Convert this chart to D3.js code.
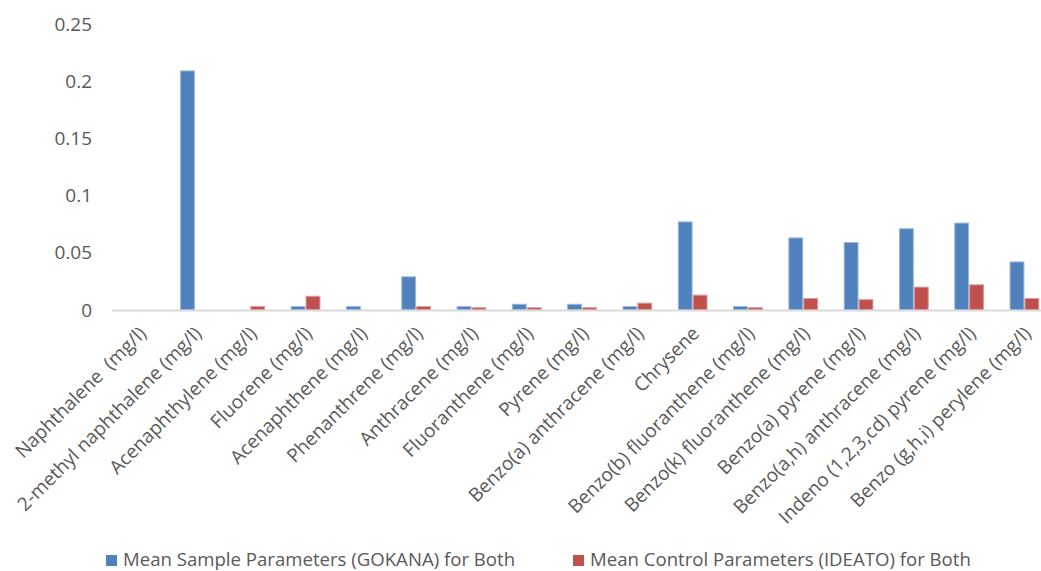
<!DOCTYPE html>
<html>
<head>
<meta charset="utf-8">
<script src="https://cdn.jsdelivr.net/npm/d3@7"></script>
<style>
  html, body { margin: 0; padding: 0; background: #fff; }
  svg { display: block; font-family: "Open Sans", "Noto Sans", sans-serif; }
</style>
</head>
<body>
<svg id="chart" width="1041" height="571"></svg>
<script>
// PAH concentrations (mg/l)
const categories = [
  "Naphthalene  (mg/l)",
  "2-methyl naphthalene (mg/l)",
  "Acenaphthylene (mg/l)",
  "Fluorene (mg/l)",
  "Acenaphthene (mg/l)",
  "Phenanthrene (mg/l)",
  "Anthracene (mg/l)",
  "Fluoranthene (mg/l)",
  "Pyrene (mg/l)",
  "Benzo(a) anthracene (mg/l)",
  "Chrysene",
  "Benzo(b) fluoranthene (mg/l)",
  "Benzo(k) fluoranthene (mg/l)",
  "Benzo(a) pyrene (mg/l)",
  "Benzo(a,h) anthracene (mg/l)",
  "Indeno (1,2,3,cd) pyrene (mg/l)",
  "Benzo (g,h,i) perylene (mg/l)"
];
const sampleGokana = [0, 0.209, 0, 0.003, 0.003, 0.029, 0.003, 0.005, 0.005, 0.003, 0.077, 0.003, 0.063, 0.059, 0.071, 0.076, 0.042];
const controlIdeato = [0, 0, 0.003, 0.012, 0, 0.003, 0.002, 0.002, 0.002, 0.006, 0.013, 0.002, 0.010, 0.009, 0.020, 0.022, 0.010];
const seriesNames = ["Mean Sample Parameters (GOKANA) for Both", "Mean Control Parameters (IDEATO) for Both"];
const seriesColors = ["#4F81BD", "#C0504D"];
const seriesStroke = ["#9db7da", "#dc9a98"];
const yTicks = [0, 0.05, 0.1, 0.15, 0.2, 0.25];

const svg = d3.select("#chart");
const plotLeft = 112, plotRight = 112 + 17 * 55.3, plotTop = 24, plotBottom = 310;

const x0 = d3.scaleBand().domain(categories).range([plotLeft, plotRight]).padding(0);
const x1 = d3.scaleBand().domain([0, 1])
  .range([x0.bandwidth() * 0.24, x0.bandwidth() * 0.76]).paddingInner(0.07);
const y = d3.scaleLinear().domain([0, 0.25]).range([plotBottom, plotTop]);

// y axis labels (no axis line, no gridlines)
const yAxis = d3.axisLeft(y).tickValues(yTicks).tickSize(0).tickPadding(0)
  .tickFormat(d => String(+d.toFixed(2)));
const gy = svg.append("g").attr("transform", "translate(92,0)").call(yAxis);
gy.select(".domain").remove();
gy.selectAll("text").attr("fill", "#595959").style("font-size", "19px")
  .style("font-family", "'Open Sans', sans-serif");

// bars
const data = categories.map((c, i) => ({ c, v: [sampleGokana[i], controlIdeato[i]] }));
const groups = svg.append("g").selectAll("g").data(data).join("g")
  .attr("transform", d => `translate(${x0(d.c)},0)`);
groups.selectAll("rect")
  .data(d => d.v.map((v, k) => ({ v, k })).filter(e => e.v > 0))
  .join("rect")
  .attr("x", e => x1(e.k))
  .attr("width", x1.bandwidth())
  .attr("y", e => y(e.v))
  .attr("height", e => y(0) - y(e.v))
  .attr("fill", e => seriesColors[e.k])
  .attr("stroke", e => seriesStroke[e.k])
  .attr("stroke-width", 1);

// category axis
svg.append("line")
  .attr("x1", plotLeft).attr("x2", plotRight)
  .attr("y1", y(0) + 0.5).attr("y2", y(0) + 0.5)
  .attr("stroke", "#d9d9d9").attr("stroke-width", 2);

svg.append("g").selectAll("text").data(categories).join("text")
  .attr("transform", d => `translate(${x0(d) + x0.bandwidth() / 2 + 3},${plotBottom + 20}) rotate(-45)`)
  .attr("text-anchor", "end")
  .attr("dy", "0.35em")
  .attr("fill", "#595959")
  .style("font-size", "19px")
  .style("white-space", "pre")
  .text(d => d);

// legend
const legendX = [106, 573];
const lg = svg.append("g").selectAll("g").data(seriesNames).join("g")
  .attr("transform", (d, i) => `translate(${legendX[i]},566)`);
lg.append("rect").attr("width", 11).attr("height", 11).attr("y", -11)
  .attr("fill", (d, i) => seriesColors[i]);
lg.append("text").attr("x", 17).attr("y", 0)
  .attr("fill", "#595959").style("font-size", "18.6px")
  .text(d => d);
</script>
</body>
</html>
